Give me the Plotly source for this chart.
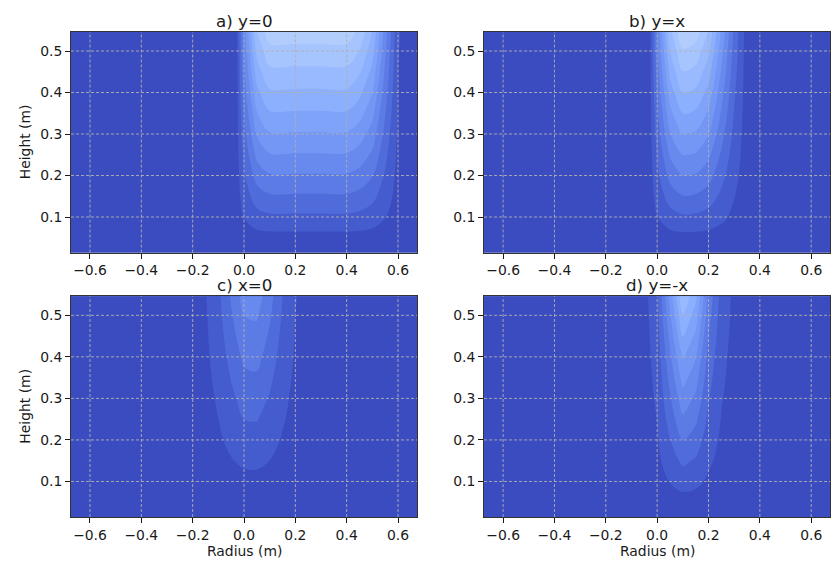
import numpy as np
import plotly.graph_objects as go

# ---------------- data ----------------
titles = ["a) y=0", "b) y=x", "c) x=0", "d) y=-x"]
x_ticks = [-0.6, -0.4, -0.2, 0.0, 0.2, 0.4, 0.6]
y_ticks = [0.1, 0.2, 0.3, 0.4, 0.5]
x_label = "Radius (m)"
y_label = "Height (m)"

# a) y=0 : vertical profile (core value vs height) and radial profile
height_a = [0.0, 0.05, 0.1, 0.15, 0.2, 0.25, 0.3, 0.35, 0.4, 0.45, 0.5, 0.55]
core_a = [0.0, 0.005, 0.047, 0.085, 0.122, 0.158, 0.193, 0.228, 0.262, 0.295, 0.328, 0.36]
radius_a = [-0.7, -0.03, 0.0, 0.05, 0.1, 0.2, 0.3, 0.4, 0.45, 0.5, 0.55, 0.6, 0.65, 0.7]
profile_a = [0, 0, 0.4, 0.85, 1.0, 1.0, 1.0, 1.0, 0.92, 0.75, 0.4, 0.06, 0, 0]

# b) y=x
height_b = [0.0, 0.05, 0.1, 0.15, 0.2, 0.25, 0.3, 0.35, 0.4, 0.45, 0.5, 0.55]
core_b = [0.0, 0.006, 0.048, 0.088, 0.126, 0.162, 0.198, 0.233, 0.268, 0.302, 0.336, 0.37]
radius_b = [-0.7, -0.03, 0.0, 0.05, 0.1, 0.15, 0.2, 0.25, 0.3, 0.35, 0.7]
profile_b = [0, 0, 0.35, 0.8, 1.0, 0.97, 0.82, 0.52, 0.22, 0.0, 0]

# c) x=0
height_c = [0.0, 0.05, 0.1, 0.15, 0.2, 0.25, 0.3, 0.35, 0.4, 0.45, 0.5, 0.55]
core_c = [0.0, 0.0, 0.0093, 0.025, 0.0407, 0.057, 0.071, 0.087, 0.103, 0.118, 0.133, 0.148]
radius_c = [-0.7, -0.25, -0.2, -0.15, -0.1, -0.05, 0.0, 0.05, 0.1, 0.15, 0.2, 0.25, 0.3, 0.7]
profile_c = [0, 0.004, 0.026, 0.106, 0.31, 0.64, 0.94, 0.97, 0.71, 0.37, 0.135, 0.035, 0.006, 0]

# d) y=-x
height_d = [0.0, 0.05, 0.1, 0.15, 0.2, 0.25, 0.3, 0.35, 0.4, 0.45, 0.5, 0.55]
core_d = [0.0, 0.003, 0.033, 0.062, 0.091, 0.12, 0.148, 0.176, 0.204, 0.236, 0.27, 0.305]
radius_d = [-0.7, -0.1, -0.05, 0.0, 0.05, 0.1, 0.15, 0.2, 0.25, 0.3, 0.35, 0.7]
profile_d = [0, 0, 0.019, 0.155, 0.575, 0.985, 0.8, 0.38, 0.135, 0.034, 0, 0]

# matplotlib "coolwarm" colour map stops
coolwarm_rgb = [
    (59, 76, 192), (68, 90, 204), (77, 104, 215), (87, 117, 225), (98, 130, 234),
    (108, 142, 241), (119, 154, 247), (130, 165, 251), (141, 176, 254), (152, 185, 255),
    (163, 194, 255), (174, 201, 253), (184, 208, 249), (194, 213, 244), (204, 217, 238),
    (213, 219, 230), (221, 221, 221), (229, 216, 209), (236, 211, 197), (241, 204, 184),
    (245, 196, 172), (247, 187, 159), (247, 177, 147), (247, 166, 134), (244, 154, 123),
    (241, 141, 111), (236, 127, 99), (229, 112, 88), (222, 96, 77), (213, 80, 66),
    (203, 62, 56), (192, 40, 47), (180, 4, 38),
]

# ---------------- figure ----------------
W, H = 836, 563
colorscale = [[i / (len(coolwarm_rgb) - 1), "rgb(%d,%d,%d)" % c] for i, c in enumerate(coolwarm_rgb)]
n_levels = 28
cs = 1.0 / n_levels

panels = [
    (height_a, core_a, radius_a, profile_a),
    (height_b, core_b, radius_b, profile_b),
    (height_c, core_c, radius_c, profile_c),
    (height_d, core_d, radius_d, profile_d),
]

# pixel boxes of the four axes (left, top, right, bottom)
boxes = [(71, 32, 417, 252.5), (484.1, 32, 830.2, 252.5),
         (71, 296.3, 417, 517), (484.1, 296.3, 830.2, 517)]
x_range = [-0.674, 0.674]
y_range = [0.0145, 0.5458]

fig = go.Figure()
layout = dict(width=W, height=H, margin=dict(l=0, r=0, t=0, b=0),
              paper_bgcolor="white", plot_bgcolor="#3b4cc0",
              font=dict(family="DejaVu Sans", color="#1a1a1a"),
              showlegend=False)
shapes = []
annotations = []
tick_font = dict(family="DejaVu Sans", size=13.9, color="#1a1a1a")
for i, ((hh, cc, rr, pp), box) in enumerate(zip(panels, boxes)):
    k = "" if i == 0 else str(i + 1)
    z = np.outer(np.array(cc), np.array(pp))
    fig.add_trace(go.Contour(
        x=rr, y=hh, z=z, xaxis="x" + k, yaxis="y" + k,
        colorscale=colorscale, showscale=False, autocontour=False,
        contours=dict(start=cs / 2, end=1 - cs / 2, size=cs, coloring="fill", showlines=False),
        line=dict(width=0), hoverinfo="skip"))
    l, t, r, b = box
    layout["xaxis" + k] = dict(
        domain=[l / W, r / W], anchor="y" + k, range=x_range,
        tickvals=x_ticks, tickformat=".1f", ticks="outside", ticklen=5, tickwidth=1,
        tickcolor="#1a1a1a", tickfont=tick_font, showgrid=False, zeroline=False,
        showline=True, mirror=True, linecolor="#333333", linewidth=1)
    layout["yaxis" + k] = dict(
        domain=[1 - b / H, 1 - t / H], anchor="x" + k, range=y_range,
        tickvals=y_ticks, tickformat=".1f", ticks="outside", ticklen=5, tickwidth=1,
        tickcolor="#1a1a1a", tickfont=tick_font, showgrid=False, zeroline=False,
        showline=True, mirror=True, linecolor="#333333", linewidth=1)
    # dashed grid on top of the filled contours
    for xv in x_ticks:
        shapes.append(dict(type="line", xref="x" + k, yref="y" + k + " domain",
                           x0=xv, x1=xv, y0=0, y1=1, layer="above",
                           line=dict(color="#b0b0b0", width=0.9, dash="3px,2px")))
    for yv in y_ticks:
        shapes.append(dict(type="line", xref="x" + k + " domain", yref="y" + k,
                           x0=0, x1=1, y0=yv, y1=yv, layer="above",
                           line=dict(color="#b0b0b0", width=0.9, dash="3px,2px")))
    # panel title
    annotations.append(dict(text=titles[i], xref="paper", yref="paper",
                            x=(l + r) / 2 / W, y=1 - (t - 11.5) / H,
                            xanchor="center", yanchor="middle", showarrow=False,
                            font=dict(family="DejaVu Sans", size=16.7, color="#1a1a1a")))
    if i in (0, 2):
        annotations.append(dict(text=y_label, xref="paper", yref="paper",
                                x=25 / W, y=1 - (t + b) / 2 / H, textangle=-90,
                                xanchor="center", yanchor="middle", showarrow=False,
                                font=dict(family="DejaVu Sans", size=13.9, color="#1a1a1a")))
    if i in (2, 3):
        annotations.append(dict(text=x_label, xref="paper", yref="paper",
                                x=(l + r) / 2 / W, y=1 - 551 / H,
                                xanchor="center", yanchor="middle", showarrow=False,
                                font=dict(family="DejaVu Sans", size=13.9, color="#1a1a1a")))

layout["shapes"] = shapes
layout["annotations"] = annotations
fig.update_layout(**layout)
fig.write_html("out.html")
